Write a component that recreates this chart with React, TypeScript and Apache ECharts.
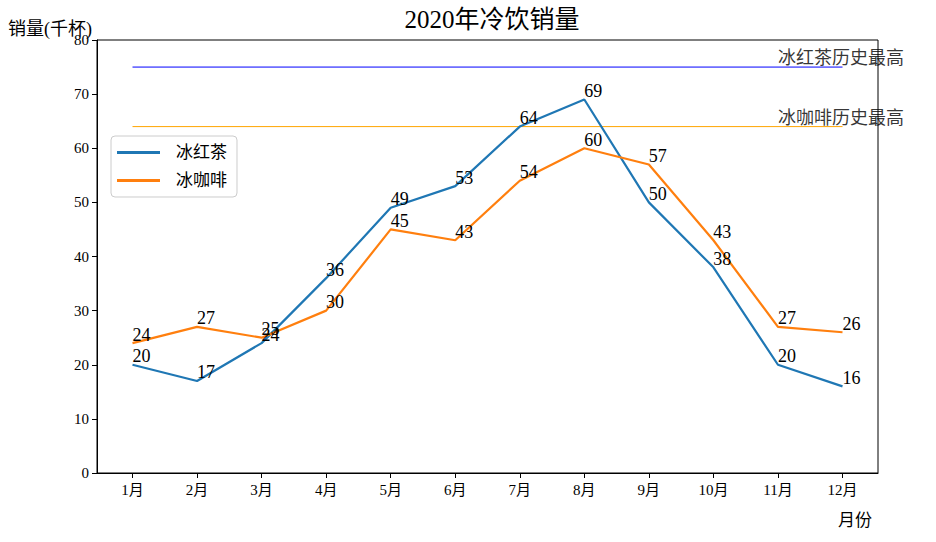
import React, { useEffect, useRef } from "react";
import * as echarts from "echarts";

const months = ["1月", "2月", "3月", "4月", "5月", "6月", "7月", "8月", "9月", "10月", "11月", "12月"];
const teaName = "冰红茶";
const coffeeName = "冰咖啡";
const teaSales = [20, 17, 24, 36, 49, 53, 64, 69, 50, 38, 20, 16];
const coffeeSales = [24, 27, 25, 30, 45, 43, 54, 60, 57, 43, 27, 26];
const teaRecord = 75;
const coffeeRecord = 64;
const teaRecordText = "冰红茶历史最高";
const coffeeRecordText = "冰咖啡历史最高";
const titleText = "2020年冷饮销量";
const yName = "销量(千杯)";
const xName = "月份";

const FONT = "'Liberation Serif', 'DejaVu Serif', 'Noto Sans CJK SC', serif";

export default function App() {
  const ref = useRef<HTMLDivElement>(null);
  useEffect(() => {
    if (!ref.current) return;
    const chart = echarts.init(ref.current, undefined, { renderer: "svg" });
    const idx = months.map((_, i) => i);
    const labelCfg = {
      show: true,
      position: [0, 0] as any,
      align: "left",
      verticalAlign: "bottom",
      fontSize: 18,
      lineHeight: 17,
      color: "#000",
      fontFamily: FONT,
    };
    chart.setOption({
      animation: false,
      backgroundColor: "#fff",
      textStyle: { fontFamily: FONT },
      title: {
        text: titleText,
        left: 487,
        textAlign: "center",
        top: 2,
        textStyle: { fontSize: 25, fontWeight: "normal", color: "#000", fontFamily: FONT },
      },
      grid: {
        left: 97,
        right: 58,
        top: 40,
        bottom: 69,
        show: true,
        borderColor: "#000",
        borderWidth: 1,
        containLabel: false,
      },
      legend: {
        orient: "vertical",
        left: 111,
        top: 136,
        data: [teaName, coffeeName],
        icon: "rect",
        itemWidth: 43,
        itemHeight: 3,
        itemGap: 11,
        padding: [8, 10, 8, 6],
        borderColor: "#cccccc",
        borderWidth: 1,
        borderRadius: 4,
        textStyle: { fontSize: 17, color: "#000", fontFamily: FONT, padding: [0, 0, 0, 11] },
      },
      xAxis: {
        type: "value",
        min: -0.55,
        max: 11.55,
        name: xName,
        nameLocation: "end",
        nameGap: 0,
        nameTextStyle: {
          align: "right",
          verticalAlign: "top",
          padding: [39, 6, 0, 0],
          fontSize: 17,
          color: "#000",
          fontFamily: FONT,
        },
        splitLine: { show: false },
        axisLine: { show: true, onZero: false, lineStyle: { color: "#000", width: 1 } },
        axisTick: { show: true, customValues: idx, length: 5, inside: false, lineStyle: { color: "#000" } },
        axisLabel: {
          customValues: idx,
          formatter: (v: number) => months[Math.round(v)],
          fontSize: 15,
          color: "#000",
          margin: 9,
          fontFamily: FONT,
        },
      },
      yAxis: {
        type: "value",
        min: 0,
        max: 80,
        interval: 10,
        splitLine: { show: false },
        axisLine: { show: true, onZero: false, lineStyle: { color: "#000", width: 1 } },
        axisTick: { show: true, length: 5, inside: false, lineStyle: { color: "#000" } },
        axisLabel: { fontSize: 15, color: "#000", margin: 8, fontFamily: FONT },
      },
      graphic: [
        {
          type: "text",
          left: 8,
          top: 20,
          style: { text: yName, fontSize: 18, fill: "#000", fontFamily: FONT },
        },
      ],
      series: [
        {
          name: teaName,
          type: "line",
          data: teaSales.map((v, i) => [i, v]),
          symbol: "circle",
          symbolSize: 0.1,
          showSymbol: true,
          lineStyle: { color: "#1f77b4", width: 2.2 },
          itemStyle: { color: "#1f77b4" },
          label: labelCfg,
          z: 3,
        },
        {
          name: coffeeName,
          type: "line",
          data: coffeeSales.map((v, i) => [i, v]),
          symbol: "circle",
          symbolSize: 0.1,
          showSymbol: true,
          lineStyle: { color: "#ff7f0e", width: 2.2 },
          itemStyle: { color: "#ff7f0e" },
          label: labelCfg,
          z: 3,
        },
        {
          name: "teaRecord",
          type: "line",
          data: [
            [0, teaRecord],
            [11, teaRecord],
          ],
          symbol: "none",
          lineStyle: { color: "#0000ff", width: 1 },
          z: 2,
        },
        {
          name: "coffeeRecord",
          type: "line",
          data: [
            [0, coffeeRecord],
            [11, coffeeRecord],
          ],
          symbol: "none",
          lineStyle: { color: "#ffa500", width: 1 },
          z: 2,
        },
        {
          name: "annot",
          type: "scatter",
          data: [
            [10, teaRecord],
            [10, coffeeRecord],
          ],
          symbolSize: 0.1,
          itemStyle: { color: "transparent" },
          label: {
            ...labelCfg,
            fontSize: 18,
            lineHeight: 18,
            formatter: (p: any) => (p.dataIndex === 0 ? teaRecordText : coffeeRecordText),
          },
          z: 4,
        },
      ],
    });
    return () => chart.dispose();
  }, []);
  return (
    <div
      ref={ref}
      style={{ position: "fixed", left: 0, top: 0, width: 936, height: 542 }}
    />
  );
}
